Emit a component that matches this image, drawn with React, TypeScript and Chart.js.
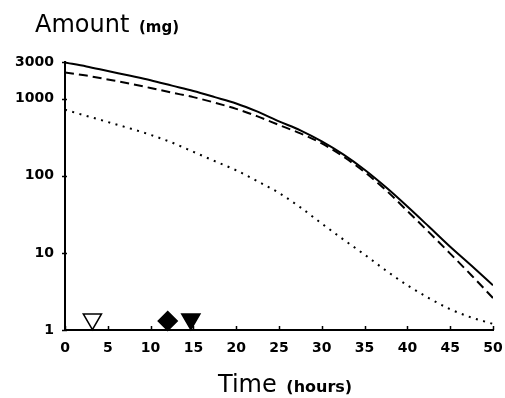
import React, { useEffect, useRef } from "react";
import { Chart, registerables } from "chart.js";

Chart.register(...registerables);

// Time (hours)
const hours = [0, 2.5, 5, 7.5, 10, 12.5, 15, 17.5, 20, 22.5, 25, 27.5, 30, 32.5, 35, 37.5, 40, 42.5, 45, 47.5, 50];
// Solid curve (mg)
const totalAmount = [2950, 2630, 2290, 2000, 1740, 1480, 1260, 1050, 870, 680, 510, 390, 280, 190, 120, 71, 40, 22, 12, 6.8, 3.8];
// Dashed curve (mg)
const dashedAmount = [2190, 2000, 1780, 1580, 1380, 1200, 1050, 890, 740, 590, 457, 355, 263, 178, 112, 65, 35, 18.6, 9.8, 5.1, 2.6];
// Dotted curve (mg)
const dottedAmount = [720, 600, 500, 415, 340, 270, 205, 155, 118, 85, 60, 39, 24, 15, 9.5, 5.9, 3.8, 2.6, 1.86, 1.45, 1.2];

// Event markers along the time axis
const markerHours = [3.2, 12, 14.7];
const markerAmounts = [1.38, 1.31, 1.38];

const xTickValues = [0, 5, 10, 15, 20, 25, 30, 35, 40, 45, 50];
const yTickValues = [1, 10, 100, 1000, 3000];

const FONT = '"DejaVu Sans", sans-serif';

const titlesPlugin = {
  id: "titles",
  afterDraw(chart: any) {
    const ctx = chart.ctx as CanvasRenderingContext2D;
    ctx.save();
    ctx.fillStyle = "#000";
    ctx.textBaseline = "alphabetic";
    ctx.textAlign = "left";
    ctx.font = `24px ${FONT}`;
    ctx.fillText("Amount", 35, 32);
    let w = ctx.measureText("Amount ").width;
    ctx.font = `bold 15px ${FONT}`;
    ctx.fillText("(mg)", 37 + w, 32);

    ctx.font = `24px ${FONT}`;
    ctx.fillText("Time", 218, 392);
    w = ctx.measureText("Time ").width;
    ctx.font = `bold 16px ${FONT}`;
    ctx.fillText("(hours)", 220 + w, 392);
    ctx.restore();
  },
};

// Short tick marks: inward on the time axis, small marks on the amount axis
const tickMarks = {
  id: "tickMarks",
  afterDraw(chart: any) {
    const ctx = chart.ctx as CanvasRenderingContext2D;
    const xs = chart.scales.x;
    const ys = chart.scales.y;
    const area = chart.chartArea;
    ctx.save();
    ctx.strokeStyle = "#000";
    ctx.lineWidth = 1.5;
    ctx.beginPath();
    xTickValues.forEach((v) => {
      const px = Math.round(xs.getPixelForValue(v)) + 0.5;
      ctx.moveTo(px, area.bottom);
      ctx.lineTo(px, area.bottom - 4);
    });
    yTickValues.forEach((v) => {
      const py = Math.round(ys.getPixelForValue(v)) + 0.5;
      ctx.moveTo(area.left - 3, py);
      ctx.lineTo(area.left + 2, py);
    });
    ctx.stroke();
    ctx.restore();
  },
};

const whiteBg = {
  id: "whiteBg",
  beforeDraw(chart: any) {
    const ctx = chart.ctx as CanvasRenderingContext2D;
    ctx.save();
    ctx.fillStyle = "#fff";
    ctx.fillRect(0, 0, chart.width, chart.height);
    ctx.restore();
  },
};

export default function App() {
  const ref = useRef<HTMLCanvasElement | null>(null);

  useEffect(() => {
    if (!ref.current) return;
    const toPts = (vals: number[]) => hours.map((h, i) => ({ x: h, y: vals[i] }));
    const chart = new Chart(ref.current, {
      type: "line",
      data: {
        datasets: [
          {
            data: toPts(totalAmount),
            borderColor: "#000",
            borderWidth: 2,
            pointRadius: 0,
            cubicInterpolationMode: "monotone",
          },
          {
            data: toPts(dashedAmount),
            borderColor: "#000",
            borderWidth: 2,
            borderDash: [9, 5],
            pointRadius: 0,
            cubicInterpolationMode: "monotone",
          },
          {
            data: toPts(dottedAmount),
            borderColor: "#000",
            borderWidth: 2,
            borderDash: [2, 5.5],
            pointRadius: 0,
            cubicInterpolationMode: "monotone",
          },
          {
            data: markerHours.map((h, i) => ({ x: h, y: markerAmounts[i] })),
            showLine: false,
            clip: false as any,
            pointStyle: ["triangle", "rectRot", "triangle"] as any,
            rotation: [180, 0, 180] as any,
            pointRadius: [10.5, 9.5, 10.5] as any,
            pointBackgroundColor: ["#fff", "#000", "#000"] as any,
            pointBorderColor: "#000",
            pointBorderWidth: 1.5,
          },
        ],
      },
      options: {
        animation: false,
        responsive: true,
        maintainAspectRatio: false,
        layout: { padding: { top: 62, right: 9, left: 0, bottom: 0 } },
        plugins: {
          legend: { display: false },
          tooltip: { enabled: false },
          title: { display: false },
        },
        scales: {
          x: {
            type: "linear",
            min: 0,
            max: 50,
            afterBuildTicks: (s: any) => {
              s.ticks = xTickValues.map((v) => ({ value: v }));
            },
            afterFit: (s: any) => {
              s.height = 68;
              s.paddingRight = 9;
            },
            grid: {
              drawOnChartArea: false,
              drawTicks: true,
              tickLength: 10,
              tickColor: "rgba(0,0,0,0)",
              color: "rgba(0,0,0,0)",
            },
            border: { display: true, color: "#000", width: 2 },
            ticks: {
              color: "#000",
              padding: 0,
              maxRotation: 0,
              autoSkip: false,
              font: { family: FONT, size: 14, weight: "bold" },
              callback: (v: any) => String(v),
            },
          },
          y: {
            type: "logarithmic",
            min: 1,
            max: 3000,
            afterBuildTicks: (s: any) => {
              s.ticks = yTickValues.map((v) => ({ value: v }));
            },
            afterFit: (s: any) => {
              s.width = 65;
            },
            grid: {
              drawOnChartArea: false,
              drawTicks: false,
              color: "rgba(0,0,0,0)",
            },
            border: { display: true, color: "#000", width: 2 },
            ticks: {
              color: "#000",
              padding: 11,
              autoSkip: false,
              font: { family: FONT, size: 14, weight: "bold" },
              callback: (v: any) => String(v),
            },
          },
        },
      },
      plugins: [whiteBg, tickMarks, titlesPlugin],
    });
    return () => chart.destroy();
  }, []);

  return (
    <div style={{ position: "fixed", left: 0, top: 0, width: 505, height: 398, background: "#fff" }}>
      <canvas ref={ref} />
    </div>
  );
}
